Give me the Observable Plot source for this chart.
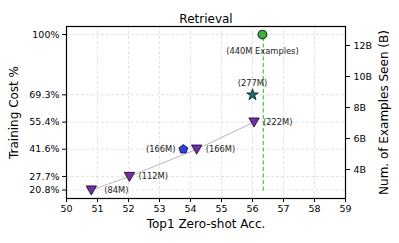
<!DOCTYPE html>
<html><head><meta charset="utf-8">
<script src="https://cdn.jsdelivr.net/npm/d3@7"></script>
<script src="https://cdn.jsdelivr.net/npm/@observablehq/plot@0.6"></script>
<style>body{margin:0;background:#fff} svg{font-family:"DejaVu Sans",sans-serif}</style>
</head><body><div id="chart"></div>
<script>
// data
const triLabels = ["84M", "112M", "166M", "222M"];
const triAcc = [50.8, 52.03, 54.2, 56.05];
const triCost = [20.8, 27.7, 41.6, 55.4];
const pentLabels = ["166M"];
const pentAcc = [53.77];
const pentCost = [41.6];
const starLabels = ["277M"];
const starAcc = [56.0];
const starCost = [69.3];
const circLabels = ["440M Examples"];
const circAcc = [56.32];
const circCost = [100];
const dashAcc = [56.35];
const xTicks = [50, 51, 52, 53, 54, 55, 56, 57, 58, 59];
const yTicks = [20.8, 27.7, 41.6, 55.4, 69.3, 100];
const rightTicksB = [4, 6, 8, 10, 12];

// right axis (billions) expressed on the left scale
const bToCost = b => 31.25 + (b - 4) * 7.896;
const rightTicks = rightTicksB.map(bToCost);

const tri = triLabels.map((l, i) => ({l, x: triAcc[i], y: triCost[i]}));
const pent = pentLabels.map((l, i) => ({l, x: pentAcc[i], y: pentCost[i]}));
const star = starLabels.map((l, i) => ({l, x: starAcc[i], y: starCost[i]}));
const circ = circLabels.map((l, i) => ({l, x: circAcc[i], y: circCost[i]}));

const triDown = {draw(ctx, size) {
  const r = Math.sqrt(size / Math.PI);
  ctx.moveTo(-r, -r * 0.8); ctx.lineTo(r, -r * 0.8); ctx.lineTo(0, r * 0.95); ctx.closePath();
}};
const pentagon = {draw(ctx, size) {
  const r = Math.sqrt(size / Math.PI);
  for (let k = 0; k < 5; k++) {
    const a = (-90 + 72 * k) * Math.PI / 180;
    const px = r * Math.cos(a), py = r * Math.sin(a);
    if (k === 0) ctx.moveTo(px, py); else ctx.lineTo(px, py);
  }
  ctx.closePath();
}};

const xDom = [50, 59], yDom = [16.5, 104.1];
const yMid = (yDom[0] + yDom[1]) / 2;
const fs = 9.5, afs = 8.3;
const chart = Plot.plot({
  width: 399, height: 243,
  marginLeft: 66, marginRight: 54, marginTop: 26, marginBottom: 45,
  x: {domain: xDom},
  y: {domain: yDom},
  marks: [
    Plot.gridX(xTicks, {stroke: "#e3e3e3", strokeOpacity: 1, strokeDasharray: "3,2"}),
    Plot.gridY(yTicks, {stroke: "#e3e3e3", strokeOpacity: 1, strokeDasharray: "3,2"}),
    Plot.ruleX(dashAcc, {y1: 20.3, y2: 100, stroke: "#4fd04f", strokeWidth: 1.3, strokeDasharray: "4,2.5"}),
    Plot.line(tri, {x: "x", y: "y", stroke: "#b8b8b8", strokeWidth: 1}),
    Plot.dot(tri, {x: "x", y: "y", symbol: triDown, r: 5.2, fill: "#7030a0", stroke: "#2a1040", strokeWidth: 0.9}),
    Plot.dot(pent, {x: "x", y: "y", symbol: pentagon, r: 4.6, fill: "#2f3fe6", stroke: "#141a55", strokeWidth: 0.9}),
    Plot.dot(star, {x: "x", y: "y", symbol: "star", r: 3.6, fill: "#1d6b6e", stroke: "#0f2b2b", strokeWidth: 0.9}),
    Plot.dot(circ, {x: "x", y: "y", r: 4.3, fill: "#3fae3f", stroke: "#1c3f1c", strokeWidth: 1.2}),
    Plot.text(tri.slice(0, 1), {x: "x", y: "y", text: d => `(${d.l})`, textAnchor: "start", dx: 13, fontSize: afs, fill: "#222"}),
    Plot.text(tri.slice(1), {x: "x", y: "y", text: d => `(${d.l})`, textAnchor: "start", dx: 9, fontSize: afs, fill: "#222"}),
    Plot.text(pent, {x: "x", y: "y", text: d => `(${d.l})`, textAnchor: "end", dx: -8, fontSize: afs, fill: "#222"}),
    Plot.text(star, {x: "x", y: "y", text: d => `(${d.l})`, dy: -11, fontSize: afs, fill: "#222"}),
    Plot.text(circ, {x: "x", y: "y", text: d => `(${d.l})`, dy: 17, fontSize: afs, fill: "#222"}),
    Plot.frame({stroke: "#000", strokeWidth: 1.2}),
    Plot.axisX({ticks: xTicks, tickSize: 4, tickPadding: 3, fontSize: fs, label: null, tickFormat: d => d}),
    Plot.axisY({ticks: yTicks, tickSize: 4, tickPadding: 3, fontSize: fs, label: null,
      tickFormat: d => (d === 100 ? "100" : d.toFixed(1)) + "%"}),
    Plot.axisY({anchor: "right", ticks: rightTicks, tickSize: 4, tickPadding: 4, fontSize: fs, label: null,
      tickFormat: (d, i) => rightTicksB[i] + "B"}),
    Plot.text(["Retrieval"], {frameAnchor: "top", text: d => d, dy: -12, fontSize: 12, fill: "#000"}),
    Plot.text(["Top1 Zero-shot Acc."], {frameAnchor: "bottom", text: d => d, dy: 29, fontSize: 12, fill: "#000"}),
    Plot.text(["Training Cost %"], {x: () => xDom[0] - 52 / 31, y: () => yMid, text: d => d, rotate: -90, fontSize: 12, fill: "#000", clip: false}),
    Plot.text(["Num. of Examples Seen (B)"], {x: () => xDom[1] + 39 / 31, y: () => yMid, text: d => d, rotate: -90, fontSize: 12, fill: "#000", clip: false})
  ]
});
document.getElementById("chart").appendChild(chart);
</script>
</body></html>
